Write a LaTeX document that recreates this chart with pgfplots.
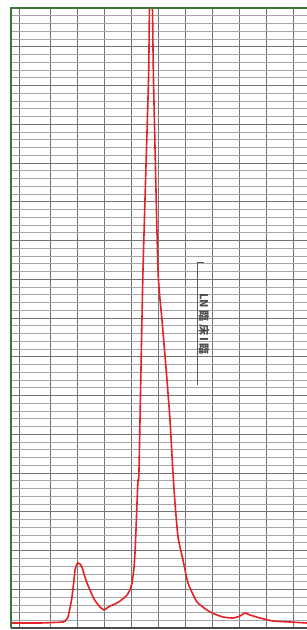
\documentclass[border=0pt]{standalone}
\usepackage{pgfplots}
\pgfplotsset{compat=1.18}
\usepackage{fontspec}
\newfontfamily\cjk{Noto Sans CJK JP}
\definecolor{frameg}{RGB}{60,115,55}
\definecolor{curve}{RGB}{228,35,40}
\begin{document}
\begin{tikzpicture}[x=1pt,y=1pt]
\useasboundingbox (0,0) rectangle (307,630);
\fill[white] (0,0) rectangle (307,630);
\begin{axis}[name=ax, at={(11pt,2pt)}, anchor=south west, scale only axis,
  width=296pt, height=620pt, xmin=0, xmax=296, ymin=0, ymax=620,
  axis line style={draw=none},
  xtick={8,39,66,93,120,147,174,201,228,255,282},
  ytick={0,38.75,...,620}, minor y tick num=4,
  grid=both,
  major grid style={black!55, line width=0.7pt},
  minor grid style={black!35, line width=0.5pt},
  xticklabels={}, yticklabels={}, tick style={draw=none}, clip=true]
\addplot[curve, line width=1.6pt, smooth, tension=0.3] coordinates {
(1,5) (29,5) (52,6) (55,8) (57,11) (59,20) (61,31) (63,48) (64,58) (66,64) (67,65) (69,64) (71,61) (73,54) (76,45) (79,38) (82,31) (85,26) (89,21) (93,18) (96,20) (99,22) (104,24) (109,27) (113,30) (116,33) (119,38) (121,45) (123,60) (124,75) (125,98) (126,125) (127,148) (128,158) (132,358) (137.5,548) (138.5,620) (140.5,645) (141.5,620) (142.5,548) (147,358) (151,308) (156,248) (159,208) (162,155) (164,125) (167,91) (172,68) (177,45) (186,26) (199,16) (212,11) (222,10) (229,12) (234,15) (239,13) (249,10) (262,7) (279,6) (296,5)
};
\end{axis}
\draw[black!70, line width=1.4pt] (ax.south west) -- (ax.south east);
\draw[frameg, line width=2pt] (ax.south west) -- (ax.north west) -- (ax.north east);
\draw[black!65, line width=1pt] (204,367) -- (197,367) -- (197,245);
\node[rotate=-90, font=\cjk\fontsize{11}{11}\selectfont\bfseries, text=black!70, inner sep=0pt] at (204,306) {LN 臨 床 I 臨};
\end{tikzpicture}
\end{document}
